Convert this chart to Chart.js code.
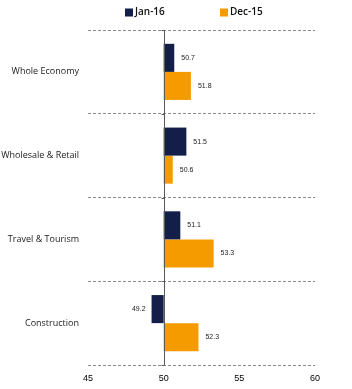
<!DOCTYPE html>
<html><head><meta charset="utf-8">
<script src="https://cdn.jsdelivr.net/npm/chart.js@4/dist/chart.umd.min.js"></script>
<style>html,body{margin:0;padding:0;background:#fff}#w{width:352px;height:389px;position:relative}</style>
</head><body><div id="w"><canvas id="c"></canvas></div>
<script>
const categories = ["Whole Economy", "Wholesale & Retail", "Travel & Tourism", "Construction"];
const jan16 = [50.7, 51.5, 51.1, 49.2];
const dec15 = [51.8, 50.6, 53.3, 52.3];
const seriesNames = ["Jan-16", "Dec-15"];
const xTicks = [45, 50, 55, 60];

const baseLine = {
  id: 'baseLine',
  afterDatasetsDraw(chart) {
    const {ctx, chartArea: a, scales: {x, y}} = chart;
    const px = Math.round(x.getPixelForValue(50)) + 0.5;
    ctx.save();
    ctx.strokeStyle = '#595959';
    ctx.lineWidth = 1;
    ctx.beginPath();
    ctx.moveTo(px, a.top); ctx.lineTo(px, a.bottom);
    const n = categories.length;
    for (let i = 0; i <= n; i++) {
      const yy = Math.round(a.top + (a.bottom - a.top) * i / n) + 0.5;
      ctx.moveTo(px - 3, yy); ctx.lineTo(px, yy);
    }
    ctx.stroke();
    ctx.font = '7px "Liberation Sans", Arial, sans-serif';
    ctx.fillStyle = '#222';
    ctx.textBaseline = 'middle';
    chart.data.datasets.forEach((ds, di) => {
      const meta = chart.getDatasetMeta(di);
      meta.data.forEach((bar, i) => {
        const v = ds.data[i];
        const txt = v.toFixed(1);
        if (v >= 50) { ctx.textAlign = 'left'; ctx.fillText(txt, bar.x + 7, bar.y); }
        else { ctx.textAlign = 'right'; ctx.fillText(txt, bar.x - 6, bar.y); }
      });
    });
    ctx.restore();
  }
};

// legend drawn from the dataset labels/colours
const topLegend = {
  id: 'topLegend',
  afterDraw(chart) {
    const ctx = chart.ctx;
    const starts = [125, 220];
    ctx.save();
    ctx.font = '600 10px "Open Sans", "DejaVu Sans", sans-serif';
    ctx.textBaseline = 'middle';
    ctx.textAlign = 'left';
    chart.data.datasets.forEach((ds, i) => {
      const x0 = starts[i], yc = 12.5;
      ctx.fillStyle = ds.backgroundColor;
      ctx.fillRect(x0, yc - 4, 8, 8);
      ctx.fillStyle = '#111';
      ctx.fillText(ds.label, x0 + 10, yc);
    });
    ctx.restore();
  }
};

new Chart(document.getElementById('c'), {
  type: 'bar',
  data: {
    labels: categories,
    datasets: [
      {label: seriesNames[0], data: jan16, base: 50, backgroundColor: '#131f48', categoryPercentage: 0.67, barPercentage: 1},
      {label: seriesNames[1], data: dec15, base: 50, backgroundColor: '#f59b00', categoryPercentage: 0.67, barPercentage: 1}
    ]
  },
  options: {
    indexAxis: 'y',
    responsive: true,
    maintainAspectRatio: false,
    animation: false,
    layout: {padding: {left: 0, right: 37, top: 30, bottom: 0}},
    plugins: {
      tooltip: {enabled: false},
      legend: {display: false}
    },
    scales: {
      x: {
        min: 45, max: 60,
        afterBuildTicks(s) { s.ticks = xTicks.map(v => ({value: v})); },
        grid: {display: false, drawTicks: false},
        border: {display: false},
        ticks: {color: '#000', padding: 8, font: {family: '"Liberation Sans", Arial, sans-serif', size: 9}},
        afterFit(s) { s.height = 24; }
      },
      y: {
        grid: {display: true, offset: true, color: '#8a8a8a', drawTicks: false, lineWidth: 1},
        border: {display: false, dash: [3, 2]},
        ticks: {color: '#222', padding: 9, font: {family: '"Open Sans", "DejaVu Sans", sans-serif', size: 9}},
        afterFit(s) { s.width = 88; }
      }
    }
  },
  plugins: [baseLine, topLegend]
});
</script></body></html>
